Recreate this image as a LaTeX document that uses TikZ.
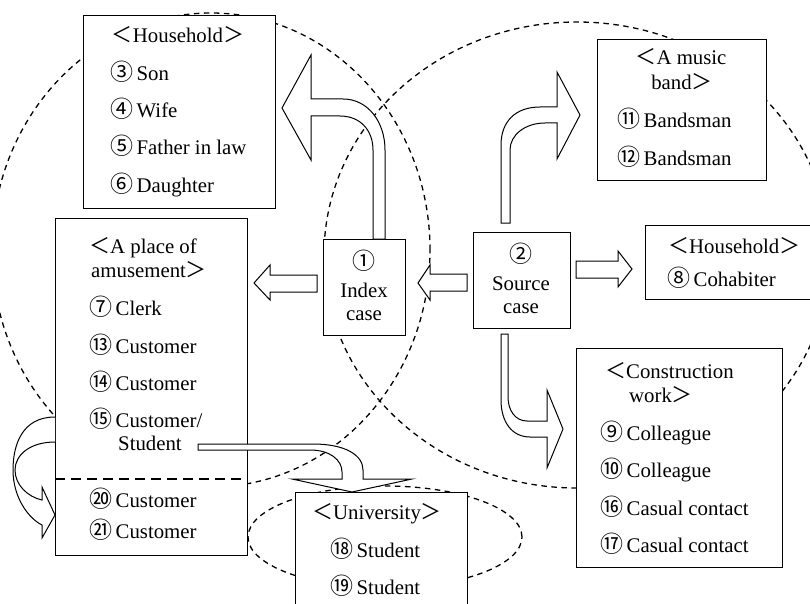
\documentclass[tikz,border=0pt]{standalone}
\usepackage{fontspec}
\setmainfont{Liberation Serif}
\newfontfamily\cjk{Noto Sans CJK JP}
\newcommand\cn[1]{{\cjk\fontsize{23}{23}\selectfont #1}}
\newcommand\lt{{\cjk\fontsize{21}{21}\selectfont ＜}}
\newcommand\gt{{\cjk\fontsize{21}{21}\selectfont ＞}}
\newcommand\mainsz{\fontsize{20.8}{25}\selectfont}
\tikzset{
  box/.style={draw, line width=1.1pt, fill=white, anchor=north west, inner sep=0pt},
  txt/.style={anchor=base west, inner sep=0pt, font=\mainsz},
  ctxt/.style={anchor=base, inner sep=0pt, font=\mainsz},
  blk/.style={draw, fill=white, line width=1pt, line join=miter},
  circ/.style={draw, line width=1.3pt, dash pattern=on 5.5pt off 4.5pt},
  divline/.style={line width=1.3pt, dash pattern=on 10pt off 6pt}
}
\begin{document}
\begin{tikzpicture}[x=1pt,y=-1pt]
\useasboundingbox (0,0) rectangle (810,604);
\clip (0,0) rectangle (810,604);
% dashed groupings
\draw[circ] (211,250) ellipse [x radius=219pt, y radius=237pt];
\draw[circ] (577,255) ellipse [x radius=253pt, y radius=233pt];
\draw[circ] (385,537) ellipse [x radius=137pt, y radius=51pt];
% boxes
\node[box, minimum width=192pt, minimum height=193pt] (hhL) at (83,15) {};
\node[box, minimum width=192pt, minimum height=337pt] (amuse) at (55,218) {};
\node[box, minimum width=82pt, minimum height=96pt] (idx) at (323,239) {};
\node[box, minimum width=97pt, minimum height=96pt] (src) at (473,232) {};
\node[box, minimum width=185pt, minimum height=74pt] (hhR) at (645,225) {};
\node[box, minimum width=169pt, minimum height=141pt] (band) at (597,39) {};
\node[box, minimum width=206pt, minimum height=219pt] (cons) at (576,348) {};
\node[box, minimum width=172pt, minimum height=148pt] (univ) at (295,492) {};
\draw[divline] (amuse.west |- 0,479) coordinate (dl) -- (amuse.east |- 0,479) coordinate (dr);
% block arrows
\draw[blk] (373,239) -- (373,150) .. controls (373,130) and (360,116) .. (340,116) -- (311,116) -- (311,160) -- (282,108) -- (311,55) -- (311,99) -- (343,99) .. controls (368,99) and (385,122) .. (385,150) -- (385,239) -- cycle;
\draw[blk] (317,275) -- (270,275) -- (270,265) -- (254,283) -- (270,300) -- (270,292) -- (317,292) -- cycle;
\draw[blk] (467,274) -- (430,274) -- (430,265) -- (418,283) -- (430,300) -- (430,291) -- (467,291) -- cycle;
\draw[blk] (576,261) -- (618,261) -- (618,251) -- (632,269) -- (618,287) -- (618,278) -- (576,278) -- cycle;
\draw[blk] (501,223) -- (501,145) .. controls (501,122) and (515,107) .. (540,107) -- (557,107) -- (557,72) -- (580,115) -- (557,159) -- (557,123) -- (545,123) .. controls (525,123) and (510,135) .. (510,150) -- (510,223) -- cycle;
\draw[blk] (501,334) -- (501,400) .. controls (501,422) and (512,437) .. (530,437) -- (547,437) -- (547,468) -- (563,429) -- (547,390) -- (547,421) -- (527,421) .. controls (515,421) and (508,410) .. (508,397) -- (508,334) -- cycle;
\draw[blk] (55,417) .. controls (22,417) and (13,445) .. (13,470) .. controls (13,497) and (28,518) .. (42,525) -- (42,538) -- (55,515) -- (42,487) -- (42,500) .. controls (28,497) and (15,485) .. (15,470) .. controls (15,455) and (30,442) .. (55,442);
\draw[blk] (198,444) -- (313,444) .. controls (345,444) and (363,455) .. (363,470) -- (363,479) -- (412,479) -- (352,492) -- (292,479) -- (342,479) -- (342,472) .. controls (342,460) and (330,450) .. (310,450) -- (198,450) -- cycle;
% texts
\node[ctxt] (hhLh) at (178,43) {\lt Household\gt};
\node[txt] (hhL1) at (110,81) {\cn{③}\,Son};
\node[txt] (hhL2) at (110,118) {\cn{④}\,Wife};
\node[txt] (hhL3) at (110,155) {\cn{⑤}\,Father in law};
\node[txt] (hhL4) at (110,192) {\cn{⑥}\,Daughter};
\node[txt] (amh1) at (89,253) {\lt A place of};
\node[txt] (amh2) at (91,277) {amusement\gt};
\node[txt] (am1) at (89,315) {\cn{⑦}\,Clerk};
\node[txt] (am2) at (89,353) {\cn{⑬}\,Customer};
\node[txt] (am3) at (89,390) {\cn{⑭}\,Customer};
\node[txt] (am4) at (89,427) {\cn{⑮}\,Customer/};
\node[txt] (am5) at (118,450) {Student};
\node[txt] (am6) at (89,507) {\cn{⑳}\,Customer};
\node[txt] (am7) at (89,538) {\cn{㉑}\,Customer};
\node[ctxt] (ix1) at (364,269) {\cn{①}};
\node[ctxt] (ix2) at (364,297) {Index};
\node[ctxt] (ix3) at (364,320) {case};
\node[ctxt] (sr1) at (521,262) {\cn{②}};
\node[ctxt] (sr2) at (521,290) {Source};
\node[ctxt] (sr3) at (521,313) {case};
\node[txt] (hhRh) at (668,253) {\lt Household\gt};
\node[txt] (hhR1) at (667,286) {\cn{⑧}\,Cohabiter};
\node[ctxt] (bdh1) at (681,65) {\lt A music};
\node[ctxt] (bdh2) at (682,90) {band\gt};
\node[txt] (bd1) at (617,128) {\cn{⑪}\,Bandsman};
\node[txt] (bd2) at (617,166) {\cn{⑫}\,Bandsman};
\node[txt] (csh1) at (605,378) {\lt Construction};
\node[txt] (csh2) at (629,402) {work\gt};
\node[txt] (cs1) at (600,440) {\cn{⑨}\,Colleague};
\node[txt] (cs2) at (600,477) {\cn{⑩}\,Colleague};
\node[txt] (cs3) at (600,515) {\cn{⑯}\,Casual contact};
\node[txt] (cs4) at (600,552) {\cn{⑰}\,Casual contact};
\node[ctxt] (uvh) at (377,519) {\lt University\gt};
\node[txt] (uv1) at (330,557) {\cn{⑱}\,Student};
\node[txt] (uv2) at (330,594) {\cn{⑲}\,Student};
\end{tikzpicture}
\end{document}
